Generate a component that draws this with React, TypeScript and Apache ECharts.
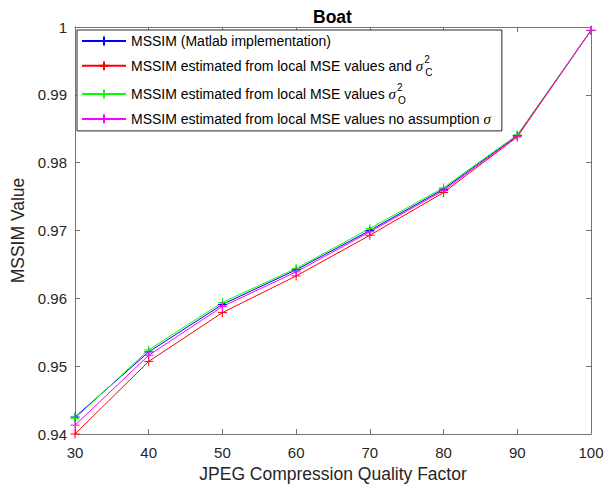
import React, { useEffect, useRef } from 'react';
import * as echarts from 'echarts';

const qualityFactors = [30, 40, 50, 60, 70, 80, 90, 100];
const mssimMatlab = [0.9425, 0.9521, 0.9591, 0.9642, 0.97, 0.9761, 0.984, 0.9995];
const mssimSigmaC = [0.94, 0.9507, 0.9579, 0.9633, 0.9693, 0.9756, 0.9838, 0.9995];
const mssimSigmaO = [0.9423, 0.9524, 0.9594, 0.9644, 0.9703, 0.9763, 0.9841, 0.9995];
const mssimNoAssumption = [0.9413, 0.9516, 0.9588, 0.9639, 0.9698, 0.9759, 0.9839, 0.9995];

const seriesNames = [
  'MSSIM (Matlab implementation)',
  'MSSIM estimated from local MSE values and σC',
  'MSSIM estimated from local MSE values σO',
  'MSSIM estimated from local MSE values no assumption σ',
];
const legendLabels = [
  'MSSIM (Matlab implementation)',
  'MSSIM estimated from local MSE values and {sig|σ}{sup|2}{sub|C}',
  'MSSIM estimated from local MSE values {sig|σ}{sup|2}{sub|O}',
  'MSSIM estimated from local MSE values no assumption {sigp|σ}',
];
const seriesValues = [mssimMatlab, mssimSigmaC, mssimSigmaO, mssimNoAssumption];
const seriesColors = ['#0000ff', '#ff0000', '#00ff00', '#ff00ff'];

const titleText = 'Boat';
const xAxisName = 'JPEG Compression Quality Factor';
const yAxisName = 'MSSIM Value';

const FONT = '"Liberation Sans", Arial, Helvetica, sans-serif';
const AXIS_COLOR = '#737373';
const TEXT_COLOR = '#262626';

export default function App() {
  const ref = useRef<HTMLDivElement>(null);
  useEffect(() => {
    if (!ref.current) return;
    const chart = echarts.init(ref.current, undefined, { renderer: 'svg' });
    const cross = 'path://M0,5L10,5M5,0L5,10';
    const axisCommon = {
      type: 'value' as const,
      axisLine: { show: true, lineStyle: { color: AXIS_COLOR, width: 1 } },
      axisTick: { show: true, inside: true, length: 5, lineStyle: { color: AXIS_COLOR } },
      splitLine: { show: false },
    };
    chart.setOption({
      animation: false,
      backgroundColor: '#ffffff',
      title: {
        text: titleText,
        left: 313,
        top: 8,
        padding: 0,
        textStyle: { fontFamily: FONT, fontSize: 17.5, fontWeight: 'bold', color: '#000' },
      },
      grid: { left: 75, right: 23, top: 27, bottom: 57, containLabel: false },
      legend: {
        orient: 'vertical',
        left: 77,
        top: 30,
        padding: [3, 11, 4, 4],
        itemGap: 5.3,
        itemWidth: 44,
        itemHeight: 11,
        backgroundColor: '#ffffff',
        borderColor: '#262626',
        borderWidth: 1,
        data: seriesNames,
        formatter: (name: string) => legendLabels[seriesNames.indexOf(name)],
        textStyle: {
          fontFamily: FONT,
          fontSize: 14,
          lineHeight: 16,
          color: '#000',
          rich: {
            sig: { fontFamily: '"Liberation Serif", serif', fontStyle: 'italic', fontSize: 15, lineHeight: 23, color: '#000' },
            sigp: { fontFamily: '"Liberation Serif", serif', fontStyle: 'italic', fontSize: 15, lineHeight: 16, color: '#000' },
            sup: { fontFamily: FONT, fontSize: 10, lineHeight: 11, verticalAlign: 'top', width: 0, align: 'left', color: '#000', padding: [0, 0, 0, 1] },
            sub: { fontFamily: FONT, fontSize: 10, lineHeight: 11, verticalAlign: 'bottom', color: '#000', padding: [0, 0, 0, 1] },
          },
        },
      },
      xAxis: [
        {
          ...axisCommon,
          position: 'bottom',
          min: 30,
          max: 100,
          interval: 10,
          name: xAxisName,
          nameLocation: 'middle',
          nameGap: 30,
          nameTextStyle: { fontFamily: FONT, fontSize: 17.5, color: TEXT_COLOR },
          axisLabel: { show: true, margin: 11, fontFamily: FONT, fontSize: 15, color: TEXT_COLOR },
        },
        {
          ...axisCommon,
          position: 'top',
          min: 30,
          max: 100,
          interval: 10,
          axisLabel: { show: false },
        },
      ],
      yAxis: [
        {
          ...axisCommon,
          position: 'left',
          min: 0.94,
          max: 1,
          interval: 0.01,
          name: yAxisName,
          nameLocation: 'middle',
          nameGap: 44,
          nameRotate: 90,
          nameTextStyle: { fontFamily: FONT, fontSize: 17.5, color: TEXT_COLOR },
          axisLabel: {
            show: true,
            margin: 8,
            fontFamily: FONT,
            fontSize: 15,
            color: TEXT_COLOR,
            formatter: (v: number) => String(+v.toFixed(2)),
          },
        },
        {
          ...axisCommon,
          position: 'right',
          min: 0.94,
          max: 1,
          interval: 0.01,
          axisLabel: { show: false },
        },
      ],
      series: seriesNames.map((name, i) => ({
        name,
        type: 'line',
        xAxisIndex: 0,
        yAxisIndex: 0,
        data: qualityFactors.map((q, j) => [q, seriesValues[i][j]]),
        symbol: cross,
        symbolSize: 9,
        showSymbol: true,
        color: seriesColors[i],
        lineStyle: { color: seriesColors[i], width: 1 },
        itemStyle: { color: seriesColors[i], borderColor: seriesColors[i], borderWidth: 1 },
        emphasis: { disabled: true },
      })),
    });
    return () => chart.dispose();
  }, []);
  return <div ref={ref} style={{ position: 'absolute', left: 0, top: 0, width: 614, height: 491 }} />;
}
